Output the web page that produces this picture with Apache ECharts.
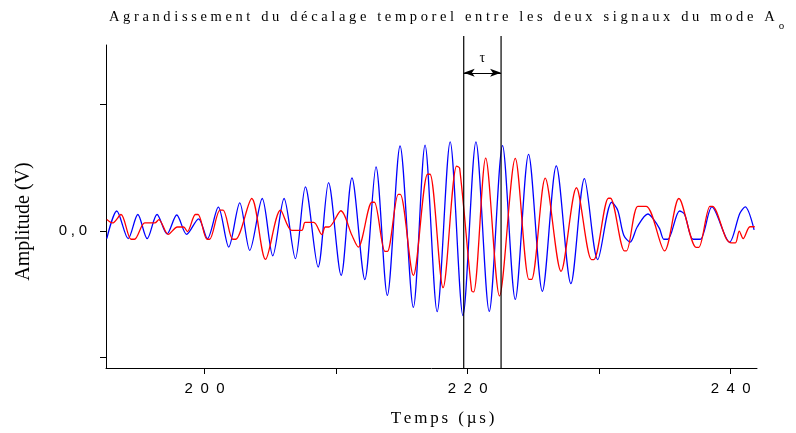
<!DOCTYPE html>
<html>
<head>
<meta charset="utf-8">
<script src="https://cdn.jsdelivr.net/npm/echarts@6/dist/echarts.min.js"></script>
<style>
  html, body { margin: 0; padding: 0; background: #fff; }
  #chart { width: 796px; height: 433px; }
</style>
</head>
<body>
<div id="chart"></div>
<script>
// Signal 1 (blue): time in µs, amplitude in axis units
const blueTime = [192.56,193.32,194.19,194.92,195.63,196.38,197.14,197.88,198.63,199.54,
  200.21,201.04,201.83,202.67,203.43,204.38,205.18,206.04,206.90,207.66,
  208.63,209.42,210.38,211.20,212.18,213.03,213.89,214.86,215.87,216.76,
  217.68,218.67,219.64,220.63,221.64,222.65,223.62,224.63,225.68,226.74,
  227.85,228.88,229.89,230.95,231.41,231.87,232.36,232.89,233.70,234.08,
  234.59,234.92,235.22,236.11,236.49,237.14,237.68,238.57,239.91,240.69,
  241.10,241.78];
const blueAmp = [-0.062,0.157,-0.062,0.129,-0.062,0.129,-0.025,0.125,-0.028,0.095,
  -0.062,0.187,-0.129,0.221,-0.155,0.256,-0.198,0.256,-0.221,0.348,
  -0.287,0.381,-0.353,0.419,-0.387,0.506,-0.512,0.672,-0.607,0.679,
  -0.641,0.705,-0.671,0.705,-0.639,0.675,-0.544,0.606,-0.480,0.514,
  -0.419,0.414,-0.228,0.226,0.163,-0.036,-0.089,0.030,0.133,0.099,
  0.017,-0.067,-0.067,0.157,0.131,-0.067,-0.067,0.189,-0.091,0.137,
  0.189,0.008];

// Signal 2 (red)
const redTime = [192.56,192.99,193.64,194.40,194.67,195.45,196.21,196.52,197.23,197.93,
  198.40,198.69,199.30,199.50,200.18,200.38,201.16,201.41,202.13,202.36,
  203.58,204.63,205.77,206.61,207.39,207.64,208.30,208.91,209.17,209.45,
  210.36,211.20,211.68,212.72,212.91,213.71,213.90,214.72,214.88,215.87,
  216.95,217.14,218.13,219.16,219.39,220.30,220.46,221.37,222.42,223.62,
  224.66,224.86,225.90,227.10,228.27,229.41,229.60,230.70,230.86,231.92,
  232.08,232.94,233.58,234.97,236.06,237.37,237.58,238.42,238.61,239.66,
  240.05,240.36,240.65,240.95,241.46,241.83];
const redAmp = [0.089,0.062,0.129,-0.067,-0.067,0.062,0.062,0.089,-0.029,0.030,
  0.030,-0.006,0.129,0.129,-0.067,-0.067,0.163,0.163,-0.067,-0.067,
  0.256,-0.226,0.163,0.004,0.004,0.066,0.066,-0.030,0.030,0.030,
  0.159,-0.036,-0.129,0.226,0.226,-0.163,-0.163,0.288,0.288,-0.353,
  0.448,0.448,-0.451,0.513,0.496,-0.475,-0.484,0.575,-0.516,0.573,
  -0.385,-0.385,0.417,-0.321,0.341,-0.228,-0.228,0.258,0.258,-0.159,
  -0.159,0.194,0.194,-0.159,0.256,-0.131,-0.131,0.194,0.194,-0.063,
  -0.095,-0.095,-0.002,-0.062,0.032,0.032];

// Axis extents and ticks
const xRange = [192.5, 242.0];
const yRange = [-1.087, 1.472];
const xTicks = [200, 210, 220, 230, 240];
const xLabels = [200, 220, 240];
const yTicks = [-1, 0, 1];
const yLabels = [0];

// Time delay τ between the two wave packets
const tauStart = 219.70;
const tauEnd = 222.54;
const tauTop = 1.544;
const tauArrowLevel = 1.252;

const titleText = 'Agrandissement du décalage temporel entre les deux signaux du mode A';
const titleSub = 'o';
const xName = 'Temps (µs)';
const yName = 'Amplitude (V)';

// Spread characters apart with a narrow space for the tracked lettering
const track = (s, gap) => Array.from(s).join(gap);
const zip = (a, b) => a.map((v, i) => [v, b[i]]);

const chart = echarts.init(document.getElementById('chart'), null, { renderer: 'canvas' });

chart.setOption({
  animation: false,
  backgroundColor: '#fff',
  title: {
    text: '{t|' + track(titleText, '\u2005') + '}{s|' + titleSub + '}',
    left: 104,
    top: 5,
    textStyle: {
      fontWeight: 'normal',
      rich: {
        t: { fontFamily: 'Liberation Serif', fontWeight: 'normal', fontSize: 14.5, color: '#000', lineHeight: 18, verticalAlign: 'top' },
        s: { fontFamily: 'Liberation Serif', fontWeight: 'normal', fontSize: 11, color: '#000', lineHeight: 11, padding: [11, 0, 0, 4], verticalAlign: 'top' }
      }
    }
  },
  grid: { left: 106, right: 39, top: 45, bottom: 65, containLabel: false },
  xAxis: {
    type: 'value',
    min: xRange[0],
    max: xRange[1],
    name: track(xName, '\u2006'),
    nameLocation: 'middle',
    nameGap: 42,
    nameTextStyle: { fontFamily: 'Liberation Serif', fontSize: 17, color: '#000', padding: [0, 0, 0, 22] },
    axisLine: { show: true, onZero: false, lineStyle: { color: '#000', width: 1 } },
    axisTick: { show: true, inside: false, length: 6, customValues: xTicks, lineStyle: { color: '#000', width: 1 } },
    axisLabel: {
      customValues: xLabels,
      margin: 13,
      fontFamily: 'Liberation Sans',
      fontSize: 15,
      color: '#000',
      formatter: v => track(String(v), '\u2002')
    },
    splitLine: { show: false }
  },
  yAxis: {
    type: 'value',
    min: yRange[0],
    max: yRange[1],
    name: yName,
    nameLocation: 'middle',
    nameGap: 72,
    nameRotate: 90,
    nameTextStyle: { fontFamily: 'Liberation Serif', fontSize: 20, color: '#000', padding: [0, 30, 0, 0] },
    axisLine: { show: true, onZero: false, lineStyle: { color: '#000', width: 1 } },
    axisTick: { show: true, inside: false, length: 6, customValues: yTicks, lineStyle: { color: '#000', width: 1 } },
    axisLabel: {
      customValues: yLabels,
      margin: 19,
      fontFamily: 'Liberation Sans',
      fontSize: 15,
      color: '#000',
      formatter: v => track(v.toFixed(1).replace('.', ','), '\u2005')
    },
    splitLine: { show: false }
  },
  series: [
    {
      name: 'blue',
      type: 'line',
      data: zip(blueTime, blueAmp),
      showSymbol: false,
      smooth: 0.3,
      lineStyle: { color: '#0000ff', width: 1.3 },
      z: 2
    },
    {
      name: 'red',
      type: 'line',
      data: zip(redTime, redAmp),
      showSymbol: false,
      smooth: 0.3,
      lineStyle: { color: '#ff0000', width: 1.3 },
      z: 3
    },
    {
      name: 'tauLeft',
      type: 'line',
      data: [[tauStart, yRange[0]], [tauStart, tauTop]],
      showSymbol: false,
      clip: false,
      silent: true,
      lineStyle: { color: '#000', width: 1.2 },
      z: 4,
      markLine: {
        silent: true,
        symbol: ['arrow', 'arrow'],
        symbolSize: [6, 11],
        lineStyle: { color: '#000', width: 1, type: 'solid' },
        label: {
          show: true,
          position: 'middle',
          formatter: 'τ',
          distance: 7,
          fontFamily: 'Liberation Serif',
          fontSize: 14,
          color: '#000'
        },
        data: [[{ coord: [tauStart, tauArrowLevel] }, { coord: [tauEnd, tauArrowLevel] }]]
      }
    },
    {
      name: 'tauRight',
      type: 'line',
      data: [[tauEnd, yRange[0]], [tauEnd, tauTop]],
      showSymbol: false,
      clip: false,
      silent: true,
      lineStyle: { color: '#000', width: 1.2 },
      z: 4
    }
  ]
});
</script>
</body>
</html>
